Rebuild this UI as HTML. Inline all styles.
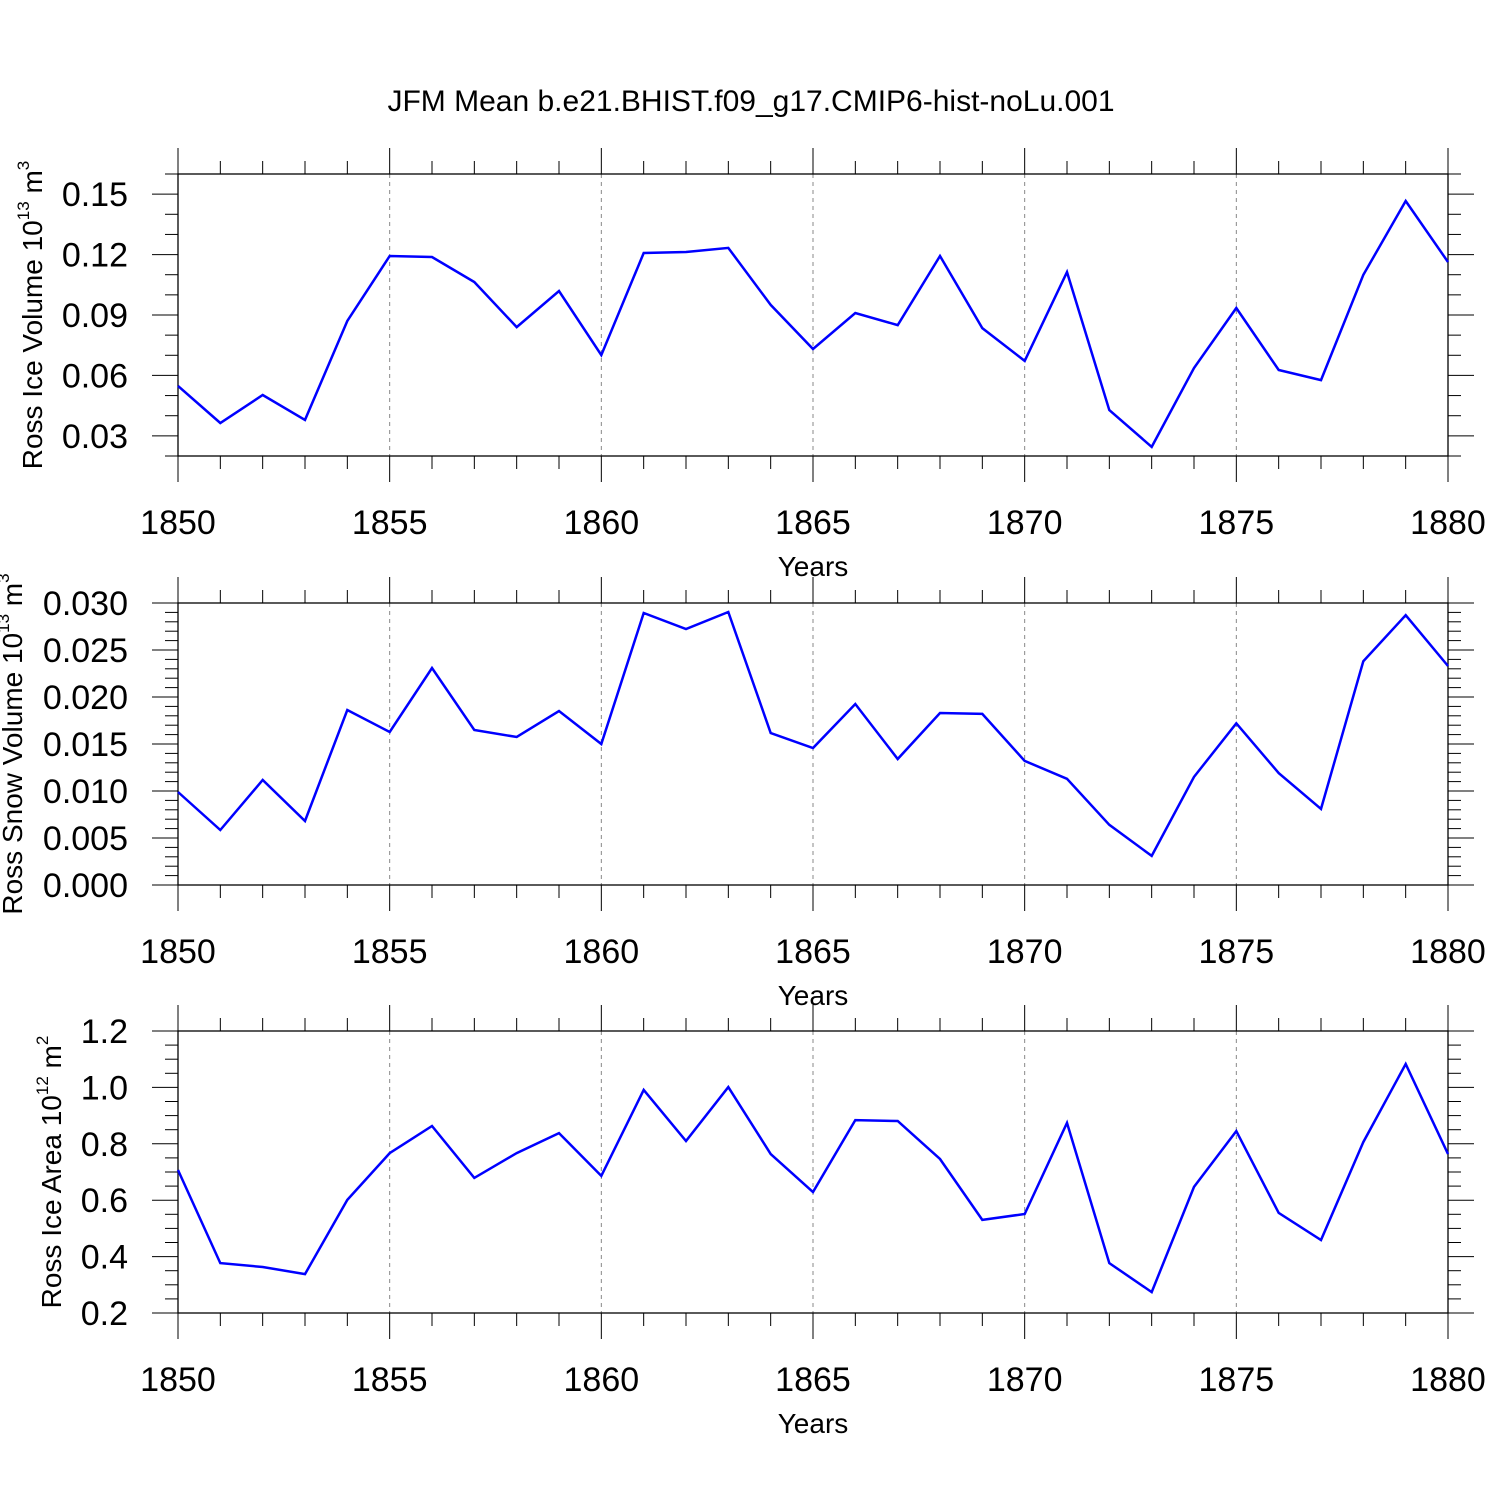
<!DOCTYPE html>
<html><head><meta charset="utf-8"><style>body{margin:0;background:#fff}svg{display:block;font-family:"Liberation Sans",sans-serif}</style></head>
<body>
<svg id="chart" width="1500" height="1500" viewBox="0 0 1500 1500">
<text x="751" y="111" font-size="30" text-anchor="middle">JFM Mean b.e21.BHIST.f09_g17.CMIP6-hist-noLu.001</text>
</svg>
<script>
const years = [1850,1851,1852,1853,1854,1855,1856,1857,1858,1859,1860,1861,1862,1863,1864,1865,1866,1867,1868,1869,1870,1871,1872,1873,1874,1875,1876,1877,1878,1879,1880];
const iceVolume = [0.0548,0.0364,0.0503,0.0379,0.0870,0.1193,0.1188,0.1064,0.0840,0.1019,0.0701,0.1208,0.1213,0.1233,0.0950,0.0731,0.0910,0.0850,0.1193,0.0835,0.0672,0.1113,0.0428,0.0245,0.0637,0.0935,0.0627,0.0577,0.1099,0.1466,0.1163];
const snowVolume = [0.00989,0.00585,0.01117,0.00681,0.01862,0.01628,0.02309,0.01649,0.01574,0.01851,0.0150,0.02894,0.02723,0.02904,0.01617,0.01457,0.01926,0.0134,0.0183,0.0182,0.0132,0.0113,0.0064,0.0031,0.0115,0.0172,0.0119,0.0081,0.0238,0.0287,0.0233];
const iceArea = [0.707,0.377,0.363,0.338,0.601,0.767,0.863,0.679,0.767,0.838,0.686,0.991,0.810,1.001,0.764,0.629,0.884,0.881,0.746,0.530,0.551,0.874,0.377,0.274,0.647,0.845,0.555,0.459,0.806,1.083,0.764];
const xTicks = [1850,1855,1860,1865,1870,1875,1880];
const ticks1 = ["0.03","0.06","0.09","0.12","0.15"];
const ticks2 = ["0.000","0.005","0.010","0.015","0.020","0.025","0.030"];
const ticks3 = ["0.2","0.4","0.6","0.8","1.0","1.2"];

const svg = document.getElementById('chart');
const NS = 'http://www.w3.org/2000/svg';
function mk(tag, attrs, parent){const e=document.createElementNS(NS,tag);for(const k in attrs)e.setAttribute(k,attrs[k]);(parent||svg).appendChild(e);return e;}
const X0=178,X1=1448;
function xs(v){return X0+(v-1850)/30*(X1-X0);}

function panel(idx, top, ymin, ymax, minorStep, ticks, data, titleParts){
  const bot=top+282;
  const g=mk('g',{});
  
  
  const ys=v=>bot-(v-ymin)/(ymax-ymin)*(bot-top);
  xTicks.slice(1,-1).forEach(t=>{
    const l=mk('line',{x1:xs(t),x2:xs(t),y1:top,y2:bot,stroke:'#888','stroke-width':1,'stroke-dasharray':'4,4'},g);
    
    
  });
  const f=mk('rect',{x:X0,y:top,width:X1-X0,height:bot-top,fill:'none',stroke:'#000','stroke-width':1.3},g);
  
  
  for(let yr=1850;yr<=1880;yr++){
    const major=(yr%5===0), L=major?26:13, x=xs(yr);
    mk('line',{x1:x,x2:x,y1:top,y2:top-L,stroke:'#000','stroke-width':1},g);
    mk('line',{x1:x,x2:x,y1:bot,y2:bot+L,stroke:'#000','stroke-width':1},g);
  }
  xTicks.forEach(t=>{
    const tx=mk('text',{x:xs(t),y:bot+78,'font-size':34,'text-anchor':'middle'},g);
    
    
    tx.textContent=t;
  });
  const xt=mk('text',{x:813,y:bot+120,'font-size':28,'text-anchor':'middle'},g);
  
  
  xt.textContent='Years';
  const n=Math.round((ymax-ymin)/minorStep);
  const majorVals=ticks.map(Number);
  for(let i=0;i<=n;i++){
    const v=ymin+i*minorStep, y=ys(v);
    const major=majorVals.some(m=>Math.abs(m-v)<minorStep/10), L=major?26:13;
    mk('line',{x1:X0,x2:X0-L,y1:y,y2:y,stroke:'#000','stroke-width':1},g);
    mk('line',{x1:X1,x2:X1+L,y1:y,y2:y,stroke:'#000','stroke-width':1},g);
  }
  ticks.forEach(t=>{
    const tx=mk('text',{x:128,y:ys(Number(t))+12,'font-size':34,'text-anchor':'end'},g);
    
    
    tx.textContent=t;
  });
  const yt=mk('text',{transform:`translate(${titleParts[2]},${top+141}) rotate(-90)`,'font-size':28,'text-anchor':'middle'},g);
  
  
  yt.textContent=titleParts[0];
  const sup=mk('tspan',{'font-size':17,dy:-13},yt);sup.textContent=titleParts[1];
  const rest=mk('tspan',{dy:13},yt);rest.textContent=' m';
  const sup2=mk('tspan',{'font-size':17,dy:-13},yt);sup2.textContent=titleParts[3];
  const pts=data.map((v,i)=>xs(years[i]).toFixed(1)+','+ys(v).toFixed(1)).join(' ');
  const pl=mk('polyline',{points:pts,fill:'none',stroke:'#0000ff','stroke-width':2.5,'stroke-linejoin':'miter'},g);
  
  
}
panel(1,174,0.02,0.16,0.01,ticks1,iceVolume,['Ross Ice Volume 10','13',42,'3']);
panel(2,603,0.0,0.03,0.001,ticks2,snowVolume,['Ross Snow Volume 10','13',22,'3']);
panel(3,1031,0.2,1.2,0.05,ticks3,iceArea,['Ross Ice Area 10','12',61,'2']);
</script>
</body></html>
